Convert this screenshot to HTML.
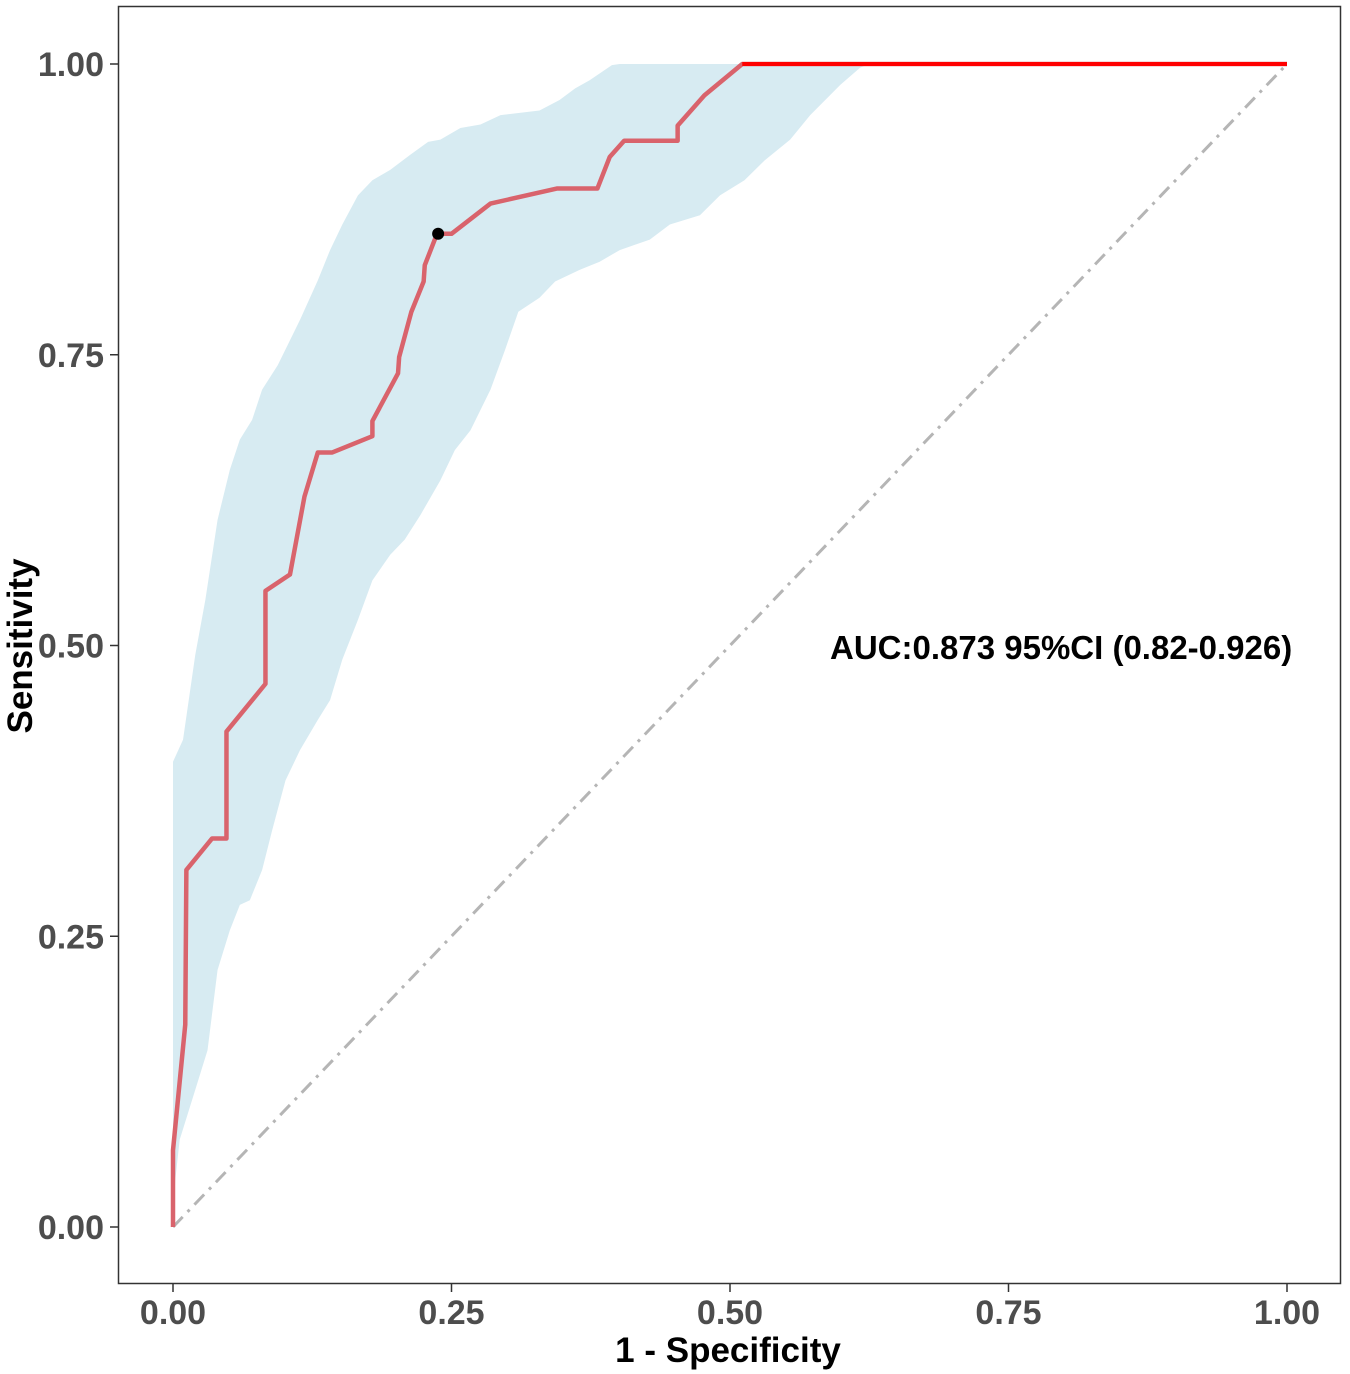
<!DOCTYPE html>
<html><head><meta charset="utf-8"><style>
html,body{margin:0;padding:0;background:#fff;}
svg{display:block;font-family:"Liberation Sans",sans-serif;}
</style></head><body>
<svg id="chart" width="1350" height="1374" viewBox="0 0 1350 1374"></svg>
<script>
const xTicks=[0,0.25,0.5,0.75,1];
const yTicks=[0,0.25,0.5,0.75,1];
const tickLabels=["0.00","0.25","0.50","0.75","1.00"];
const rocFpr=[0,0,0.011,0.012,0.035,0.048,0.048,0.083,0.083,0.105,0.118,0.130,0.143,0.179,0.179,0.202,0.203,0.214,0.225,0.226,0.237,0.250,0.285,0.345,0.381,0.392,0.405,0.453,0.453,0.477,0.511,1];
const rocTpr=[0,0.066,0.174,0.307,0.334,0.334,0.426,0.467,0.547,0.561,0.628,0.666,0.666,0.680,0.693,0.734,0.748,0.787,0.813,0.827,0.854,0.854,0.880,0.893,0.893,0.920,0.934,0.934,0.947,0.973,1,1];
const upFpr=[0,0.009,0.020,0.029,0.040,0.051,0.060,0.071,0.080,0.094,0.114,0.130,0.141,0.152,0.166,0.179,0.195,0.213,0.229,0.240,0.258,0.276,0.294,0.329,0.347,0.361,0.374,0.394,0.401,1];
const upTpr=[0.400,0.419,0.492,0.539,0.608,0.651,0.677,0.694,0.720,0.741,0.780,0.814,0.840,0.862,0.887,0.900,0.909,0.922,0.933,0.935,0.945,0.948,0.956,0.960,0.969,0.979,0.986,0.999,1,1];
const loFpr=[0,0.002,0.006,0.020,0.031,0.040,0.051,0.060,0.069,0.080,0.089,0.101,0.114,0.130,0.141,0.152,0.166,0.179,0.195,0.208,0.222,0.240,0.253,0.267,0.285,0.298,0.310,0.329,0.343,0.365,0.383,0.401,0.428,0.446,0.473,0.491,0.513,0.531,0.554,0.572,0.599,0.617,0.626,1];
const loTpr=[0,0.040,0.075,0.118,0.152,0.221,0.255,0.277,0.281,0.307,0.341,0.384,0.410,0.436,0.453,0.488,0.522,0.556,0.578,0.591,0.612,0.642,0.668,0.685,0.720,0.754,0.787,0.799,0.813,0.823,0.830,0.840,0.849,0.862,0.870,0.887,0.900,0.917,0.935,0.956,0.982,0.997,1,1];
const bestPoint=[0.238,0.854];
const aucText="AUC:0.873 95%CI (0.82-0.926)";

const NS="http://www.w3.org/2000/svg";
const svgEl=document.getElementById('chart');
const X=v=>173+v*1114, Y=v=>1227-v*1163;
function mk(t,a){const e=document.createElementNS(NS,t);for(const k in a)e.setAttribute(k,a[k]);svgEl.appendChild(e);return e;}

let bandD="M"+upFpr.map((f,i)=>X(f)+","+Y(upTpr[i])).join("L");
for(let i=loFpr.length-1;i>=0;i--) bandD+="L"+X(loFpr[i])+","+Y(loTpr[i]);
const band=mk('path',{d:bandD+"Z",fill:"#d7ebf2"});


const diag=mk('line',{x1:X(0),y1:Y(0),x2:X(1),y2:Y(1),stroke:"#b5b5b5","stroke-width":3,"stroke-dasharray":"14 7 3 7"});


const roc=mk('polyline',{points:rocFpr.map((f,i)=>X(f)+","+Y(rocTpr[i])).join(" "),fill:"none",stroke:"#d9636c","stroke-width":4.5,"stroke-linejoin":"round"});


const topSeg=mk('line',{x1:X(0.511),y1:Y(1),x2:X(1),y2:Y(1),stroke:"#ff0000","stroke-width":4});


const bestPt=mk('circle',{cx:X(bestPoint[0]),cy:Y(bestPoint[1]),r:6,fill:"#000"});


const frameRect=mk('rect',{x:118.5,y:6.5,width:1222,height:1277,fill:"none",stroke:"#333","stroke-width":1.5});


xTicks.forEach((v,i)=>{
 const l=mk('line',{x1:X(v),y1:1284,x2:X(v),y2:1292,stroke:"#333","stroke-width":1.5});
 
 
 const t=mk('text',{x:X(v),y:1324,"text-anchor":"middle","font-size":34,"font-weight":"bold",fill:"#4d4d4d"});
 t.textContent=tickLabels[i];
 
 
});
yTicks.forEach((v,i)=>{
 const l=mk('line',{x1:110,y1:Y(v),x2:118,y2:Y(v),stroke:"#333","stroke-width":1.5});
 
 
 const t=mk('text',{x:104,y:Y(v)+12,"text-anchor":"end","font-size":34,"font-weight":"bold",fill:"#4d4d4d"});
 t.textContent=tickLabels[i];
 
 
});
const xTitle=mk('text',{x:728,y:1362,"text-anchor":"middle","font-size":35,"font-weight":"bold",fill:"#000"});
xTitle.textContent="1 - Specificity";


const yTitle=mk('text',{x:0,y:0,"text-anchor":"middle","font-size":35,"font-weight":"bold",fill:"#000",transform:"translate(32,646) rotate(-90)"});
yTitle.textContent="Sensitivity";


const aucLabel=mk('text',{x:830,y:659,"font-size":33,"font-weight":"bold",fill:"#000"});
aucLabel.textContent=aucText;


</script>
</body></html>
